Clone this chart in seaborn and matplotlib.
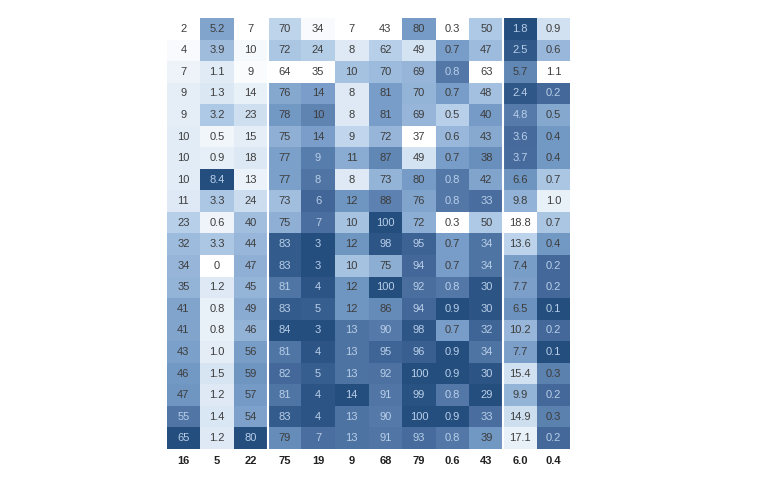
import numpy as np
import pandas as pd
import seaborn as sns
import matplotlib.pyplot as plt
from matplotlib.colors import LinearSegmentedColormap

# one list per column, top row first
c1 = [2, 4, 7, 9, 9, 10, 10, 10, 11, 23, 32, 34, 35, 41, 41, 43, 46, 47, 55, 65]
c2 = [5.2, 3.9, 1.1, 1.3, 3.2, 0.5, 0.9, 8.4, 3.3, 0.6, 3.3, 0, 1.2, 0.8, 0.8, 1.0, 1.5, 1.2, 1.4, 1.2]
c3 = [7, 10, 9, 14, 23, 15, 18, 13, 24, 40, 44, 47, 45, 49, 46, 56, 59, 57, 54, 80]
c4 = [70, 72, 64, 76, 78, 75, 77, 77, 73, 75, 83, 83, 81, 83, 84, 81, 82, 81, 83, 79]
c5 = [34, 24, 35, 14, 10, 14, 9, 8, 6, 7, 3, 3, 4, 5, 3, 4, 5, 4, 4, 7]
c6 = [7, 8, 10, 8, 8, 9, 11, 8, 12, 10, 12, 10, 12, 12, 13, 13, 13, 14, 13, 13]
c7 = [43, 62, 70, 81, 81, 72, 87, 73, 88, 100, 98, 75, 100, 86, 90, 95, 92, 91, 90, 91]
c8 = [80, 49, 69, 70, 69, 37, 49, 80, 76, 72, 95, 94, 92, 94, 98, 96, 100, 99, 100, 93]
c9 = [0.3, 0.7, 0.8, 0.7, 0.5, 0.6, 0.7, 0.8, 0.8, 0.3, 0.7, 0.7, 0.8, 0.9, 0.7, 0.9, 0.9, 0.8, 0.9, 0.8]
c10 = [50, 47, 63, 48, 40, 43, 38, 42, 33, 50, 34, 34, 30, 30, 32, 34, 30, 29, 33, 39]
c11 = [1.8, 2.5, 5.7, 2.4, 4.8, 3.6, 3.7, 6.6, 9.8, 18.8, 13.6, 7.4, 7.7, 6.5, 10.2, 7.7, 15.4, 9.9, 14.9, 17.1]
c12 = [0.9, 0.6, 1.1, 0.2, 0.5, 0.4, 0.4, 0.7, 1.0, 0.7, 0.4, 0.2, 0.2, 0.1, 0.2, 0.1, 0.3, 0.2, 0.3, 0.2]

columns = [c1, c2, c3, c4, c5, c6, c7, c8, c9, c10, c11, c12]
decimals = [0, 1, 0, 0, 0, 0, 0, 0, 1, 0, 1, 1]
reverse = [False, False, False, False, True, False, False, False, False, True, True, True]
totals = ["16", "5", "22", "75", "19", "9", "68", "79", "0.6", "43", "6.0", "0.4"]

# colour each column on its own scale
shade = []
labels = []
for vals, d, rev in zip(columns, decimals, reverse):
    v = np.array(vals, dtype=float)
    s = (v - v.min()) / (v.max() - v.min())
    if rev:
        s = 1 - s
    shade.append(s)
    labels.append(["0" if x == 0 else f"{x:.{d}f}" for x in v])
shade = pd.DataFrame(np.array(shade).T)
labels = np.array(labels).T

cmap = LinearSegmentedColormap.from_list(
    "muted_blues",
    [(0, "#ffffff"), (0.15, "#dce8f4"), (0.35, "#b4cde8"), (0.5, "#98b7da"),
     (0.7, "#7298c4"), (0.9, "#44699a"), (1, "#234e7e")])

plt.rcParams["font.family"] = ["Liberation Sans", "DejaVu Sans"]
fig = plt.figure(figsize=(7.67, 4.80), dpi=100)
ax = fig.add_axes([0.2171, 0.0646, 0.5267, 0.8979])

sns.heatmap(shade, cmap=cmap, vmin=0, vmax=1, annot=labels, fmt="",
            annot_kws={"fontsize": 8}, cbar=False, ax=ax)

flat = shade.values.flatten()
for t, s in zip(ax.texts, flat):
    t.set_color("#b9cee8" if s > 0.8 else "#3d3d3d")

ax.axvline(3, color="white", lw=1.5)
ax.axvline(10, color="white", lw=1.5)

ax.set_xticks(np.arange(12) + 0.5)
ax.set_xticklabels(totals, fontweight="bold", fontsize=8, color="#222222")
ax.set_yticks([])
ax.tick_params(axis="x", length=0, pad=5)
ax.set_xlabel("")
ax.set_ylabel("")

fig.savefig("out.png", dpi=100)
